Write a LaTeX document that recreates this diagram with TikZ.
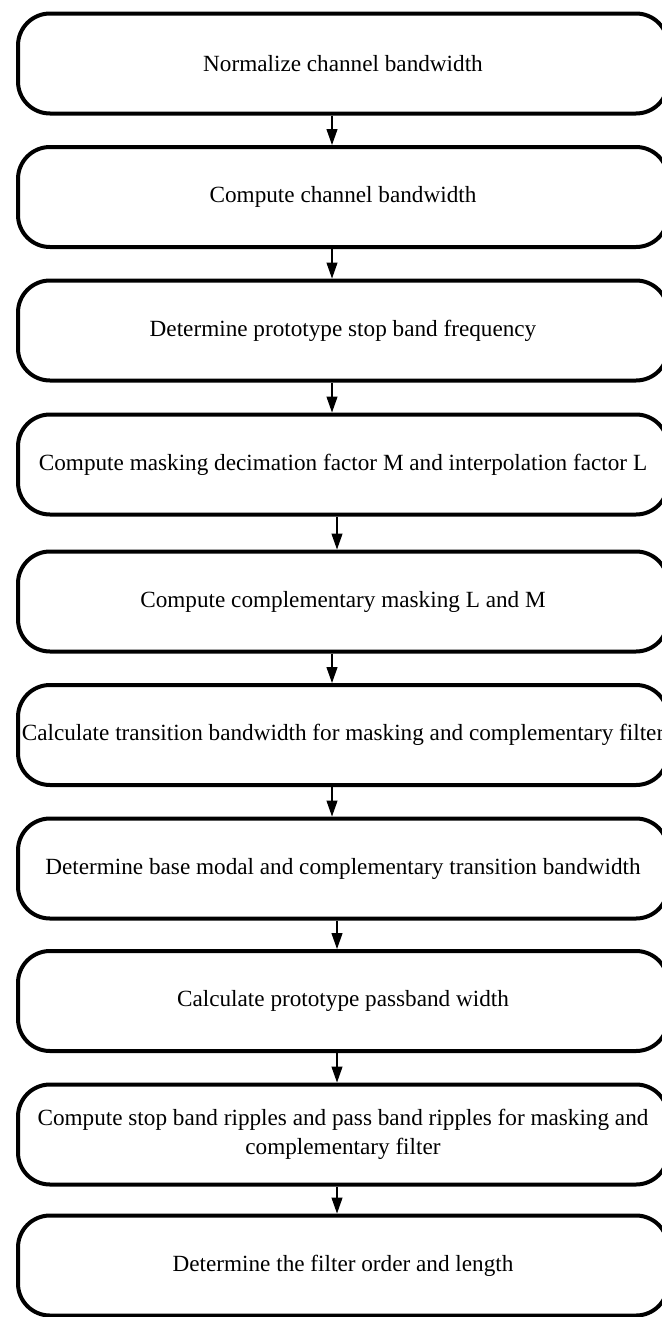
\documentclass[tikz,border=0pt]{standalone}
\usepackage{fontspec}
\setmainfont{Liberation Serif}
\usetikzlibrary{arrows.meta}
\tikzset{
	stage/.style = {draw, line width=2pt, rectangle, rounded corners=16pt,
		minimum height=50pt, minimum width=325pt, inner sep=0pt,
		align=center, font=\fontsize{11.6}{14.5}\selectfont},
	link/.style  = {-{Triangle[length=8pt,width=5.5pt]}, line width=0.6pt}
}

\begin{document}
\begin{tikzpicture}[x=0.5pt, y=-0.5pt]
	\useasboundingbox (0,0) rectangle (662,1317);
	\draw
	node at (343,63.5) [stage] (s1) {Normalize channel bandwidth}
	node at (343,197) [stage] (s2) {Compute channel bandwidth}
	node at (343,330.5) [stage] (s3) {Determine prototype stop band frequency}
	node at (343,464.5) [stage] (s4) {Compute masking decimation factor M and interpolation factor L}
	node at (343,601.5) [stage] (s5) {Compute complementary masking L and M}
	node at (343,735) [stage] (s6) {Calculate transition bandwidth for masking and complementary filter}
	node at (343,868.5) [stage] (s7) {Determine base modal and complementary transition bandwidth}
	node at (343,1001) [stage] (s8) {Calculate prototype passband width}
	node at (343,1134.5) [stage] (s9) {Compute stop band ripples and pass band ripples for masking and\\complementary filter}
	node at (343,1265.5) [stage] (s10) {Determine the filter order and length};

	\draw[link]([xshift=-5.5pt]s1.south)--([xshift=-5.5pt]s2.north);
	\draw[link]([xshift=-5.5pt]s2.south)--([xshift=-5.5pt]s3.north);
	\draw[link]([xshift=-5.5pt]s3.south)--([xshift=-5.5pt]s4.north);
	\draw[link]([xshift=-3pt]s4.south)--([xshift=-3pt]s5.north);
	\draw[link]([xshift=-5.5pt]s5.south)--([xshift=-5.5pt]s6.north);
	\draw[link]([xshift=-5.5pt]s6.south)--([xshift=-5.5pt]s7.north);
	\draw[link]([xshift=-3pt]s7.south)--([xshift=-3pt]s8.north);
	\draw[link]([xshift=-3pt]s8.south)--([xshift=-3pt]s9.north);
	\draw[link]([xshift=-3pt]s9.south)--([xshift=-3pt]s10.north);
\end{tikzpicture}
\end{document}
